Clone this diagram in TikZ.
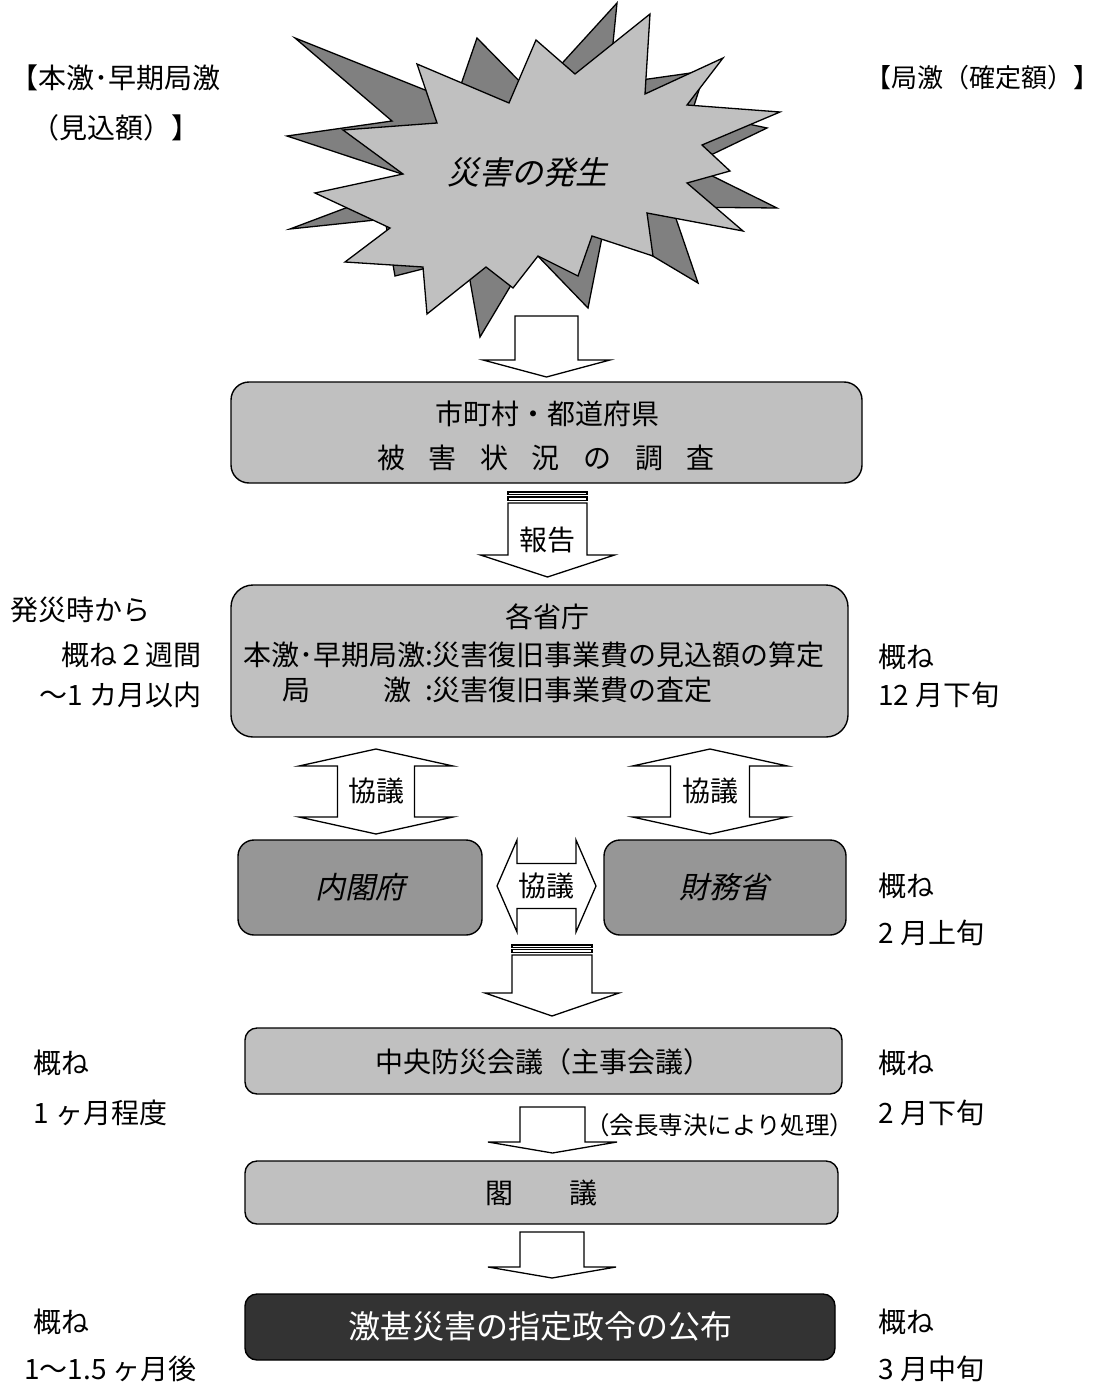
\documentclass[tikz,border=0pt]{standalone}
\usepackage{fontspec}
\setmainfont{Noto Sans CJK JP}
\newfontfamily\jpit{Noto Sans CJK JP}[FakeSlant=0.22]
\definecolor{lgray}{HTML}{C0C0C0}
\definecolor{mgray}{HTML}{969696}
\definecolor{dgray}{HTML}{808080}
\definecolor{vdark}{HTML}{333333}
\tikzset{
  flowbox/.style={draw, line width=1.4pt, fill=lgray, inner sep=0pt},
  txt/.style={inner sep=0pt, font=\fontsize{28}{32}\selectfont},
  smalltxt/.style={inner sep=0pt, font=\fontsize{24.5}{28}\selectfont},
  barrow/.style={draw, line width=1.3pt, fill=white, line join=miter},
  burst/.style={draw, line width=1.3pt, line join=miter},
}
% down block arrow: cx, top, headbase, tip, shaft half width, head half width
\newcommand{\blockdown}[6]{%
  \draw[barrow] ({#1-#5},#2) -- ({#1+#5},#2) -- ({#1+#5},#3) -- ({#1+#6},#3)
    -- (#1,#4) -- ({#1-#6},#3) -- ({#1-#5},#3) -- cycle;}
% stripes above a striped arrow: cx, shaft half width, y1, y2, y3, y4
\newcommand{\blockstripes}[6]{%
  \draw[barrow] ({#1-#2},#3) rectangle ({#1+#2},#4);
  \draw[barrow] ({#1-#2},#5) rectangle ({#1+#2},#6);}
% vertical double arrow: cx, top tip, base1, base2, bottom tip, shaft hw, head hw
\newcommand{\blockupdown}[7]{%
  \draw[barrow] (#1,#2) -- ({#1+#7},#3) -- ({#1+#6},#3) -- ({#1+#6},#4) -- ({#1+#7},#4)
    -- (#1,#5) -- ({#1-#7},#4) -- ({#1-#6},#4) -- ({#1-#6},#3) -- ({#1-#7},#3) -- cycle;}
\begin{document}
\begin{tikzpicture}[x=1pt,y=-1pt]
\fill[white] (0,0) rectangle (1102,1383);
\useasboundingbox (0,0) rectangle (1102,1383);

% ---- explosion ----
\draw[burst, fill=dgray] (295,38) -- (455,102) -- (477,38) -- (530,92) -- (545,82) -- (617,3)
  -- (611,63) -- (620,83) -- (705,71) -- (692,112) -- (767,128) -- (690,165) -- (777,208)
  -- (672,207) -- (698,283) -- (604,227) -- (588,308) -- (532,250) -- (480,337) -- (466,258)
  -- (395,276) -- (385,219) -- (290,229) -- (420,180) -- (287,136) -- (392,121) -- cycle;
\draw[burst, fill=lgray] (417,64) -- (509,103) -- (536,40) -- (575,74) -- (650,14) -- (645,94)
  -- (723,58) -- (687,105) -- (780,112) -- (702,145) -- (730,171) -- (687,183) -- (743,231)
  -- (647,213) -- (653,256) -- (592,236) -- (578,276) -- (538,256) -- (513,288) -- (486,267)
  -- (427,314) -- (423,267) -- (345,262) -- (390,228) -- (315,193) -- (403,174) -- (343,130)
  -- (437,123) -- cycle;
\node[inner sep=0pt, font=\jpit\fontsize{32}{36}\selectfont] (burst) at (527,172) {災害の発生};

% ---- header labels ----
\node[txt, anchor=west] (hl1) at (10,78) {【本激･早期局激};
\node[txt, anchor=west] (hl2) at (31,128) {（見込額）】};
\node[txt, anchor=east, font=\fontsize{26}{30}\selectfont] (hr1) at (1100,78) {【局激（確定額）】};

% ---- boxes ----
\node[flowbox, rounded corners=18pt, minimum width=631pt, minimum height=101pt] (b1) at (546.5,432.5) {};
\node[txt] (b1a) at (547,414) {市町村・都道府県};
\node[txt] (b1b) at (546,458) {被\hspace{0.84em}害\hspace{0.84em}状\hspace{0.84em}況\hspace{0.84em}の\hspace{0.84em}調\hspace{0.84em}査};

\node[flowbox, rounded corners=22pt, minimum width=617pt, minimum height=152pt] (b2) at (539.5,661) {};
\node[txt] (b2a) at (547,617) {各省庁};
\node[txt, anchor=west] (b2b) at (243,655) {本激･早期局激:災害復旧事業費の見込額の算定};
\node[txt, anchor=west] (b2c) at (243,690) {\rlap{\hspace*{1.4em}局\hspace*{2.6em}激}\hphantom{本激･早期局激}:災害復旧事業費の査定};

\node[flowbox, fill=mgray, rounded corners=16pt, minimum width=244pt, minimum height=95pt] (cab) at (360,887.5) {};
\node[inner sep=0pt, font=\jpit\fontsize{30}{34}\selectfont] (cabt) at (360,887) {内閣府};
\node[flowbox, fill=mgray, rounded corners=16pt, minimum width=242pt, minimum height=95pt] (mof) at (725,887.5) {};
\node[inner sep=0pt, font=\jpit\fontsize{30}{34}\selectfont] (moft) at (724,887) {財務省};

\node[flowbox, rounded corners=12pt, minimum width=597pt, minimum height=66pt] (chuo) at (543.5,1061) {};
\node[txt] (chuot) at (543.5,1062) {中央防災会議（主事会議）};
\node[flowbox, rounded corners=12pt, minimum width=593pt, minimum height=63pt] (kaku) at (541.5,1192.5) {};
\node[txt] (kakut) at (541.5,1193) {閣\hspace{2em}議};
\node[flowbox, fill=vdark, rounded corners=12pt, minimum width=590pt, minimum height=66pt] (fin) at (540,1327) {};
\node[inner sep=0pt, text=white, font=\fontsize{32}{36}\selectfont] (fint) at (540,1326) {激甚災害の指定政令の公布};

% ---- block arrows ----
\blockdown{546.5}{316}{360}{377}{31.5}{63.5}
\blockstripes{547.5}{39.5}{492}{494.5}{497}{500.5}
\blockdown{547.5}{503}{555}{577}{39.5}{67}
\node[txt] (rep) at (547,540) {報告};

\blockupdown{376}{749}{766}{817}{834}{38.5}{77}
\node[txt] (k1) at (376,791) {協議};
\blockupdown{710}{749}{766}{817}{834}{39.5}{77.5}
\node[txt] (k2) at (710,791) {協議};

\draw[barrow] (497,886) -- (517,840) -- (517,863.5) -- (576,863.5) -- (576,840) -- (596,886)
  -- (576,932) -- (576,908.5) -- (517,908.5) -- (517,932) -- cycle;
\node[txt] (k3) at (546.5,886) {協議};

\blockstripes{552}{40}{945}{947.5}{949.5}{952.5}
\blockdown{552}{955}{993}{1016}{40}{67}

\blockdown{552.5}{1107}{1142}{1153}{32.5}{64.5}
\node[smalltxt, anchor=west] (sen) at (585,1125) {（会長専決により処理）};
\blockdown{552}{1232}{1267}{1278}{32}{64}

% ---- side labels ----
\node[txt, anchor=west] (l1) at (10,610) {発災時から};
\node[txt, anchor=east] (l2) at (202,655) {概ね２週間};
\node[txt, anchor=east] (l3) at (202,695) {～1 カ月以内};
\node[txt, anchor=west] (r1) at (878,657) {概ね};
\node[txt, anchor=west] (r2) at (878,695) {12 月下旬};
\node[txt, anchor=west] (r3) at (878,886) {概ね};
\node[txt, anchor=west] (r4) at (878,933) {2 月上旬};
\node[txt, anchor=west] (l4) at (33,1063) {概ね};
\node[txt, anchor=west] (l5) at (33,1113) {1 ヶ月程度};
\node[txt, anchor=west] (r5) at (878,1063) {概ね};
\node[txt, anchor=west] (r6) at (878,1113) {2 月下旬};
\node[txt, anchor=west] (l6) at (33,1322) {概ね};
\node[txt, anchor=west] (l7) at (24,1369) {1～1.5 ヶ月後};
\node[txt, anchor=west] (r7) at (878,1322) {概ね};
\node[txt, anchor=west] (r8) at (878,1369) {3 月中旬};
\end{tikzpicture}
\end{document}
